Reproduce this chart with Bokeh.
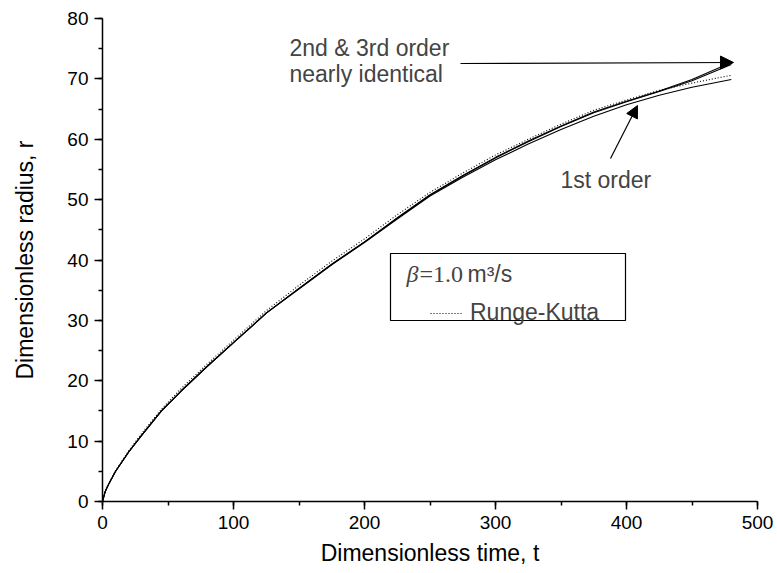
from bokeh.plotting import figure
from bokeh.models import (Range1d, SingleIntervalTicker, Label, Arrow, NormalHead,
                          BoxAnnotation, Legend, LegendItem)
from bokeh.embed import file_html
from bokeh.resources import INLINE

# ---------------- data ----------------
t_vals = [0, 2, 5, 10, 20, 30, 45, 60, 80, 100, 125, 150, 175, 200, 225, 250,
          275, 300, 325, 350, 375, 400, 425, 450, 480]
r_2nd = [0, 1.6, 3.0, 5.0, 8.2, 11.0, 15.0, 18.3, 22.4, 26.3, 31.2, 35.3, 39.3,
         43.0, 47.0, 50.8, 54.0, 57.0, 59.7, 62.2, 64.5, 66.3, 68.0, 69.9, 72.7]
r_3rd = [0, 1.6, 3.0, 5.0, 8.2, 11.0, 15.0, 18.3, 22.4, 26.3, 31.2, 35.3, 39.3,
         43.0, 46.9, 50.7, 53.9, 56.9, 59.6, 62.1, 64.4, 66.2, 67.9, 69.7, 72.4]
r_1st = [0, 1.6, 3.0, 5.0, 8.2, 11.0, 15.0, 18.3, 22.4, 26.3, 31.2, 35.2, 39.2,
         42.9, 46.8, 50.6, 53.7, 56.6, 59.2, 61.6, 63.8, 65.7, 67.3, 68.6, 69.9]
r_rk = [0, 1.7, 3.1, 5.1, 8.4, 11.3, 15.3, 18.7, 22.8, 26.7, 31.6, 35.8, 39.8,
        43.5, 47.5, 51.2, 54.4, 57.4, 60.0, 62.5, 64.8, 66.5, 68.1, 69.3, 70.6]

x_title = "Dimensionless time, t"
y_title = "Dimensionless radius, r"
note_upper = ["2nd & 3rd order", "nearly identical"]
note_lower = "1st order"
legend_beta = "\u03b2"
legend_eq = "=1.0"
legend_unit = "m\u00b3/s"
legend_rk = "Runge-Kutta"

# ---------------- layout ----------------
W, H = 777, 573
L, R, T, B = 102, 20, 18, 72
XMAX, YMAX = 500, 80
FW, FH = W - L - R, H - T - B


def dx(px):  # canvas pixel x -> data x
    return (px - L) / FW * XMAX


def dy(py):  # canvas pixel y -> data y
    return (H - B - py) / FH * YMAX


SANS = "Liberation Sans"
SERIF = "Liberation Serif"

p = figure(width=W, height=H, x_range=Range1d(0, XMAX), y_range=Range1d(0, YMAX),
           output_backend="svg", toolbar_location=None,
           min_border_left=L, min_border_right=R, min_border_top=T,
           min_border_bottom=B)
p.grid.visible = False
p.outline_line_color = None
p.background_fill_color = "white"
p.border_fill_color = "white"

p.xaxis.ticker = SingleIntervalTicker(interval=100, num_minor_ticks=2)
p.yaxis.ticker = SingleIntervalTicker(interval=10, num_minor_ticks=2)
for ax in (p.xaxis[0], p.yaxis[0]):
    ax.axis_line_width = 1.5
    ax.axis_line_color = "black"
    ax.major_tick_in = 0
    ax.major_tick_out = 8
    ax.minor_tick_in = 0
    ax.minor_tick_out = 4
    ax.major_tick_line_width = 1.5
    ax.minor_tick_line_width = 1.5
    ax.major_tick_line_color = "black"
    ax.minor_tick_line_color = "black"
    ax.major_label_text_font = SANS
    ax.major_label_text_font_size = "19px"
    ax.major_label_text_color = "black"
    ax.major_label_standoff = 6
    ax.axis_label_text_font = SANS
    ax.axis_label_text_font_size = "23px"
    ax.axis_label_text_font_style = "normal"
    ax.axis_label_text_color = "black"

p.xaxis.axis_label = x_title
p.xaxis.axis_label_standoff = 8
p.yaxis.axis_label = y_title
p.yaxis.axis_label_standoff = 26

# ---------------- curves ----------------
p.line(t_vals, r_1st, line_color="black", line_width=1.1)
p.line(t_vals, r_2nd, line_color="black", line_width=1.1)
p.line(t_vals, r_3rd, line_color="black", line_width=1.1)
rk = p.line(t_vals, r_rk, line_color="black", line_width=1.1, line_dash="1 2")

# ---------------- annotations ----------------
FS_N = 23
p.add_layout(Label(x=dx(289), y=dy(47), text=note_upper[0], text_font=SANS,
                   text_font_size=f"{FS_N}px", text_baseline="middle"))
p.add_layout(Label(x=dx(289), y=dy(73), text=note_upper[1], text_font=SANS,
                   text_font_size=f"{FS_N}px", text_baseline="middle"))
p.add_layout(Arrow(end=NormalHead(size=13, fill_color="black", line_color="black"),
                   x_start=dx(460), y_start=dy(63), x_end=dx(733), y_end=dy(62),
                   line_color="black", line_width=1.2))

p.add_layout(Label(x=dx(560), y=dy(179), text=note_lower, text_font=SANS,
                   text_font_size=f"{FS_N}px", text_baseline="middle"))
p.add_layout(Arrow(end=NormalHead(size=12, fill_color="black", line_color="black"),
                   x_start=dx(610), y_start=dy(158), x_end=dx(637), y_end=dy(105),
                   line_color="black", line_width=1.2))

# ---------------- legend box ----------------
p.add_layout(BoxAnnotation(left=dx(390), right=dx(625), top=dy(253), bottom=dy(320),
                           fill_alpha=0, line_color="black", line_alpha=1,
                           line_width=1.2))
p.add_layout(Label(x=dx(406), y=dy(273), text=legend_beta, text_font=SERIF,
                   text_font_style="italic", text_font_size="24px",
                   text_baseline="middle"))
p.add_layout(Label(x=dx(419), y=dy(273), text=legend_eq, text_font=SERIF,
                   text_font_size="24px", text_baseline="middle"))
p.add_layout(Label(x=dx(467), y=dy(273), text=legend_unit, text_font=SANS,
                   text_font_size="23px", text_baseline="middle"))

leg = Legend(items=[LegendItem(label=legend_rk, renderers=[rk])],
             location=(430 - L, H - B - 326), border_line_alpha=0,
             background_fill_alpha=0, padding=0, margin=0, spacing=0,
             glyph_width=33, glyph_height=20, label_standoff=7,
             label_text_font=SANS, label_text_font_size="23px")
p.add_layout(leg)

open("out.html", "w").write(file_html(p, INLINE))
